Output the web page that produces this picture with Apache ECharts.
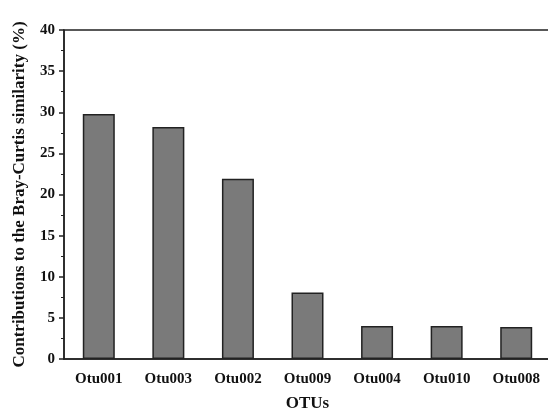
<!DOCTYPE html>
<html>
<head>
<meta charset="utf-8">
<script src="https://cdn.jsdelivr.net/npm/echarts@6/dist/echarts.min.js"></script>
<style>
  html, body { margin: 0; padding: 0; background: #fff; }
  #main { width: 548px; height: 408px; }
</style>
</head>
<body>
<div id="main"></div>
<script>
// 类别与数值
var otus = ['Otu001', 'Otu003', 'Otu002', 'Otu009', 'Otu004', 'Otu010', 'Otu008'];
var contrib = [29.8, 28.2, 21.9, 8.1, 4.0, 4.0, 3.9];

var font = 'Liberation Serif';
var myChart = echarts.init(document.getElementById('main'));

var option = {
    backgroundColor: '#fff',
    animation: false,
    grid: {
        left: 64,
        top: 30,
        width: 487,
        height: 329,
        outerBoundsMode: 'none',
        containLabel: false,
        show: true,
        borderColor: '#222',
        borderWidth: 1.5,
        backgroundColor: 'transparent'
    },
    xAxis: {
        type: 'category',
        data: otus,
        name: 'OTUs',
        nameLocation: 'center',
        nameGap: 36,
        nameTextStyle: { fontFamily: font, fontWeight: 'bold', fontSize: 17, color: '#111' },
        axisLine: { lineStyle: { color: '#222', width: 1.5 } },
        axisTick: { alignWithLabel: true, length: 5, lineStyle: { color: '#222', width: 1.5 } },
        axisLabel: { fontFamily: font, fontWeight: 'bold', fontSize: 15, color: '#111', margin: 13 }
    },
    yAxis: {
        type: 'value',
        min: 0,
        max: 40,
        interval: 5,
        name: 'Contributions to the Bray-Curtis similarity (%)',
        nameLocation: 'center',
        nameGap: 36,
        nameTextStyle: { fontFamily: font, fontWeight: 'bold', fontSize: 17, color: '#111' },
        axisLine: { show: true, lineStyle: { color: '#222', width: 1.5 } },
        axisTick: { show: true, length: 5, lineStyle: { color: '#222', width: 1.5 } },
        minorTick: { show: true, splitNumber: 2, length: 3, lineStyle: { color: '#222', width: 1 } },
        splitLine: { show: false },
        axisLabel: { fontFamily: font, fontWeight: 'bold', fontSize: 15, color: '#111', margin: 9 }
    },
    series: [
        {
            type: 'bar',
            data: contrib,
            barWidth: 32,
            itemStyle: {
                color: '#7a7a7a',
                borderColor: '#222',
                borderWidth: 1.5
            }
        }
    ]
};

myChart.setOption(option, true);
</script>
</body>
</html>
